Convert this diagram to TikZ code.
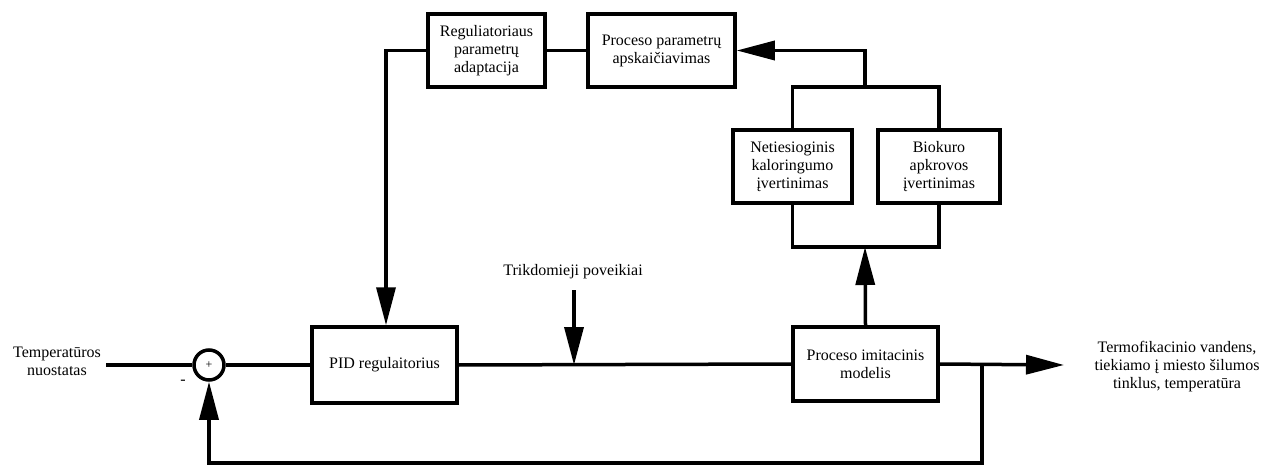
\documentclass[tikz,border=0pt]{standalone}
\usepackage{fontspec}
\setmainfont{Liberation Serif}
\usetikzlibrary{arrows.meta}
\begin{document}
\begin{tikzpicture}[x=1pt,y=-1pt,
  every node/.style={font=\fontsize{16}{18}\selectfont},
  blk/.style={draw,line width=3.5pt,rectangle,align=center,inner sep=2pt},
  ln/.style={line width=3.5pt},
  arr/.style={line width=3.5pt,-{Triangle[length=38pt,width=19pt]}},
  lbl/.style={align=center,inner sep=0pt}]
\useasboundingbox (0,0) rectangle (1272,465);
% blocks
\node[blk,minimum width=117pt,minimum height=73pt] (reg) at (486.5,50.5) {Reguliatoriaus\\parametrų\\adaptacija};
\node[blk,minimum width=147pt,minimum height=73pt] (ppar) at (661.5,50.5) {Proceso parametrų\\apskaičiavimas};
\node[blk,minimum width=119pt,minimum height=73pt] (neti) at (792.5,166.5) {Netiesioginis\\kaloringumo\\įvertinimas};
\node[blk,minimum width=122pt,minimum height=73pt] (bio) at (939,166.5) {Biokuro\\apkrovos\\įvertinimas};
\node[blk,minimum width=145pt,minimum height=76pt] (pid) at (384.5,365) {PID regulaitorius};
\node[blk,minimum width=145pt,minimum height=74pt] (proc) at (865.5,364) {Proceso imitacinis\\modelis};
\node[draw,circle,line width=3.5pt,minimum size=30pt,inner sep=0pt,font=\fontsize{12}{12}\selectfont] (sum) at (209,365) {+};
% labels
\node[lbl] (inlbl) at (57,361) {Temperatūros\\nuostatas};
\node[lbl] (minus) at (183,382) {-};
\node[lbl] (dlbl) at (573,272) {Trikdomieji poveikiai};
\node[lbl] (outlbl) at (1177,367) {Termofikacinio vandens,\\tiekiamo į miesto šilumos\\tinklus, temperatūra};
% coordinates
\coordinate (instart) at (106,365);
\coordinate (dtop) at (574,290);
\coordinate (dpt) at (574,365);
\coordinate (fb) at (982,365);
\coordinate (fbb) at (982,463);
\coordinate (outend) at (1064,365);
\coordinate (bbot) at (865,247);
\coordinate (btop) at (865,87);
\coordinate (regcorner) at (386,50);
% connectors
\draw[ln] (instart) -- (sum.west);
\draw[ln] (sum.east) -- (pid.west);
\draw[ln] (pid.east) -- (proc.west);
\draw[arr] (dtop) -- (dpt);
\draw[arr] (proc.east) -- (outend);
\draw[arr] (fb) -- (fbb) -| (sum.south);
\draw[arr] (proc.north) -- (bbot);
\draw[ln] (neti.south) |- (bbot) -| (bio.south);
\draw[ln] (neti.north) |- (btop) -| (bio.north);
\draw[arr] (btop) |- (ppar.east);
\draw[ln] (ppar.west) -- (reg.east);
\draw[arr] (reg.west) -| (pid.north -| regcorner);
\end{tikzpicture}
\end{document}
